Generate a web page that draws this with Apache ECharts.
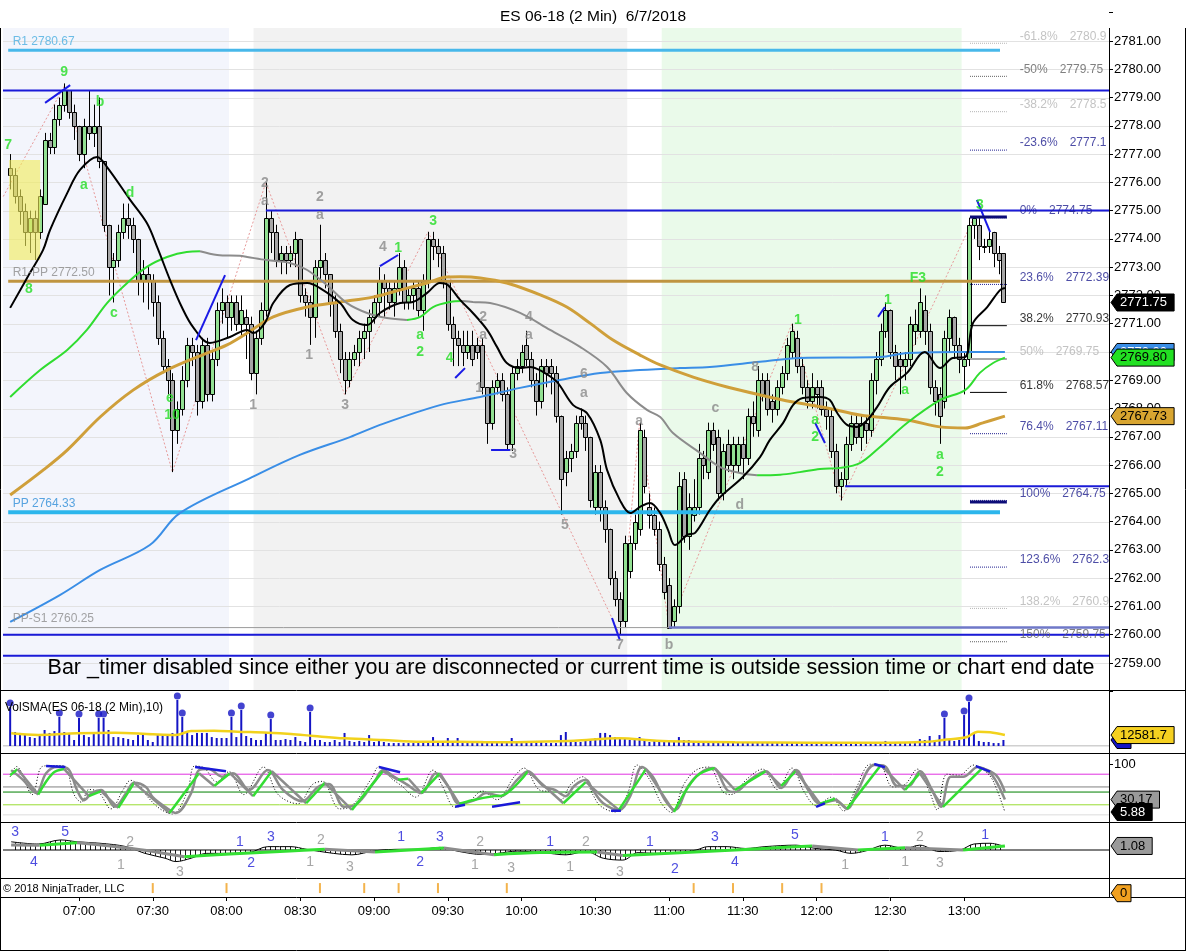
<!DOCTYPE html>
<html>
<head>
<meta charset="utf-8">
<script src="https://cdn.jsdelivr.net/npm/echarts@6/dist/echarts.min.js"></script>
<style>
html,body{margin:0;padding:0;background:#fff;}
#chart{width:1186px;height:952px;}
</style>
</head>
<body>
<div id="chart"></div>
<script>
// ================= DATA =================
// bar index 0 = 06:30 ; 2-minute bars ; first drawn bar = index 1 (06:32)
const firstBarIndex = 1;
const sessionStartMin = 6 * 60 + 30;
const timeTicks = [15, 30, 45, 60, 75, 90, 105, 120, 135, 150, 165, 180, 195];
const priceTicks = [2759,2760,2761,2762,2763,2764,2765,2766,2767,2768,2769,2770,2771,2772,2773,2774,2775,2776,2777,2778,2779,2780,2781];

const opens = [
2776.5,2776.25,2775.5,2775.0,2774.25,2774.75,2774.25,2775.25,2777.5,2777.25,
2778.25,2778.75,2779.25,2778.5,2778.0,2777.0,2778.0,2777.75,2778.0,2776.75,
2774.5,2773.0,2773.25,2774.25,2774.75,2774.5,2774.0,2772.5,2772.75,2772.5,
2771.75,2770.5,2769.5,2769.0,2767.25,2768.0,2769.0,2770.25,2770.0,2768.25,
2770.25,2768.5,2769.75,2771.5,2771.75,2771.25,2771.75,2771.0,2771.25,2771.0,
2769.25,2770.5,2771.5,2774.75,2774.25,2773.25,2773.5,2773.25,2773.5,2774.0,
2772.0,2771.75,2771.25,2773.0,2773.25,2772.75,2771.75,2770.75,2769.75,2769.0,
2769.75,2770.0,2770.5,2770.75,2771.25,2771.75,2772.5,2772.25,2771.75,2772.25,
2773.0,2771.75,2772.0,2772.25,2771.5,2772.5,2774.0,2773.75,2773.5,2772.5,
2771.0,2770.5,2770.25,2770.0,2770.25,2770.25,2770.25,2768.75,2767.5,2768.75,
2769.0,2768.5,2766.75,2769.25,2769.5,2770.25,2769.75,2769.0,2768.25,2769.5,
2769.5,2769.25,2767.75,2765.75,2766.25,2766.5,2767.75,2767.5,2767.0,2764.5,
2765.75,2764.5,2763.75,2762.0,2761.25,2760.5,2762.25,2763.25,2763.75,2767.0,
2764.5,2764.25,2763.75,2762.5,2761.75,2760.5,2761.0,2765.5,2763.5,2764.25,
2764.5,2766.25,2765.75,2767.25,2767.0,2765.0,2766.75,2766.0,2766.0,2766.75,
2766.25,2767.75,2767.25,2769.0,2769.0,2768.25,2768.0,2768.75,2769.25,2770.0,
2770.5,2769.5,2768.75,2768.25,2768.75,2768.75,2768.0,2767.75,2766.5,2765.25,
2765.5,2766.75,2767.5,2767.0,2767.5,2767.25,2769.0,2769.75,2770.75,2771.5,
2770.0,2769.75,2769.5,2769.75,2770.75,2770.75,2771.5,2770.75,2768.75,2768.5,
2768.25,2770.5,2771.25,2770.25,2769.5,2769.75,2774.5,2774.5,2773.75,2773.75,
2774.25,2773.5,2773.5];
const closes = [
2776.25,2775.5,2775.0,2774.25,2774.75,2774.25,2775.5,2777.5,2777.25,2778.25,
2778.75,2779.25,2778.5,2778.0,2777.0,2778.0,2777.75,2778.0,2776.75,2774.5,
2773.0,2773.25,2774.25,2774.75,2774.5,2774.0,2772.5,2772.75,2772.5,2771.75,
2770.5,2769.5,2769.0,2767.25,2768.0,2769.0,2770.25,2770.0,2768.25,2770.25,
2768.5,2769.75,2771.5,2771.75,2771.25,2771.75,2771.0,2771.5,2771.0,2769.25,
2770.5,2771.5,2774.75,2774.25,2773.25,2773.5,2773.25,2773.5,2774.0,2772.0,
2771.75,2771.25,2773.0,2773.25,2772.75,2771.75,2770.75,2769.75,2769.0,2769.75,
2770.0,2770.5,2770.75,2771.25,2771.75,2772.5,2772.25,2771.75,2772.25,2773.0,
2771.75,2772.0,2772.25,2771.5,2772.5,2774.0,2773.75,2773.5,2772.5,2771.0,
2770.5,2770.25,2770.0,2770.25,2769.75,2770.0,2768.75,2767.5,2768.75,2769.0,
2768.5,2766.75,2769.25,2769.5,2770.0,2769.75,2769.0,2768.25,2769.5,2769.25,
2769.25,2767.75,2765.5,2766.25,2766.5,2767.5,2767.5,2767.0,2764.75,2765.75,
2764.5,2763.75,2762.0,2761.25,2760.5,2763.25,2763.25,2764.0,2767.25,2765.25,
2764.25,2763.75,2762.5,2761.5,2760.25,2761.0,2765.25,2763.5,2764.5,2764.5,
2766.25,2766.0,2767.25,2766.75,2765.0,2766.5,2766.0,2766.75,2766.75,2766.25,
2767.75,2767.5,2769.0,2768.5,2768.0,2768.0,2768.75,2769.25,2770.25,2770.75,
2769.5,2768.75,2768.25,2768.75,2768.5,2768.0,2767.75,2766.5,2765.25,2765.5,
2766.75,2767.5,2767.0,2767.5,2767.25,2769.0,2769.75,2770.75,2771.5,2770.0,
2769.5,2769.5,2769.75,2771.0,2771.0,2771.75,2770.75,2768.75,2768.25,2767.75,
2770.5,2771.25,2770.25,2769.75,2769.75,2774.5,2774.75,2773.75,2773.75,2774.0,
2773.5,2773.25,2771.75];
const lows = [
2775.75,2775.25,2774.5,2773.75,2773.5,2773.25,2774.0,2775.25,2777.0,2777.0,
2778.0,2778.5,2778.25,2777.5,2776.75,2776.5,2777.5,2777.25,2776.5,2774.25,
2772.0,2771.75,2773.0,2774.0,2774.0,2773.5,2772.0,2771.75,2771.5,2771.25,
2770.25,2769.25,2768.5,2765.75,2766.75,2767.75,2768.75,2769.5,2767.75,2768.0,
2768.25,2768.25,2769.5,2771.0,2770.5,2770.75,2770.75,2770.5,2769.75,2769.0,
2768.5,2770.25,2771.25,2773.5,2773.0,2772.75,2772.75,2773.0,2773.0,2771.75,
2771.25,2770.25,2770.5,2772.5,2772.25,2771.25,2770.5,2769.25,2768.5,2768.75,
2769.5,2769.5,2769.75,2770.0,2771.0,2771.25,2771.25,2771.5,2771.25,2772.0,
2771.5,2771.5,2771.5,2771.25,2770.75,2772.25,2773.25,2773.0,2772.25,2770.75,
2769.5,2769.5,2769.5,2769.75,2769.5,2769.75,2768.5,2766.75,2767.25,2768.5,
2768.25,2766.5,2766.5,2769.0,2769.25,2769.5,2768.75,2767.75,2768.0,2768.75,
2768.5,2767.5,2764.25,2765.25,2765.75,2766.25,2767.25,2766.5,2764.5,2764.25,
2764.0,2763.25,2761.75,2761.0,2760.0,2760.25,2762.0,2763.0,2763.5,2765.0,
2763.75,2763.5,2762.25,2761.25,2760.25,2760.25,2760.75,2763.25,2763.0,2764.0,
2764.25,2765.5,2765.5,2766.5,2764.75,2764.75,2765.75,2765.5,2765.75,2765.5,
2766.0,2767.0,2767.0,2768.25,2767.75,2767.5,2767.75,2768.5,2769.0,2769.75,
2769.25,2768.5,2768.0,2768.0,2768.0,2767.75,2767.25,2766.25,2765.0,2764.75,
2765.25,2766.5,2766.75,2766.5,2766.75,2767.0,2768.5,2769.5,2770.5,2769.75,
2769.0,2768.5,2769.0,2769.5,2770.25,2770.5,2770.25,2768.5,2767.75,2766.75,
2768.0,2770.0,2769.75,2769.25,2768.5,2769.5,2774.0,2773.25,2773.5,2773.5,
2773.0,2772.75,2771.75];
const highs = [
2777.0,2776.5,2775.75,2775.25,2775.0,2775.0,2775.75,2777.75,2777.75,2778.75,
2779.0,2779.5,2779.25,2778.75,2778.0,2778.25,2779.25,2778.75,2779.0,2776.75,
2774.5,2773.5,2774.5,2775.25,2775.25,2774.75,2774.0,2773.25,2773.0,2772.75,
2772.0,2770.75,2769.75,2769.25,2768.25,2769.5,2770.5,2770.5,2770.25,2770.5,
2770.5,2770.0,2771.75,2772.25,2772.0,2772.0,2772.0,2772.0,2771.5,2771.25,
2770.75,2771.75,2776.0,2775.0,2774.5,2773.75,2773.75,2773.75,2774.25,2774.0,
2772.25,2772.0,2773.25,2774.5,2773.5,2772.75,2772.0,2771.0,2770.0,2770.0,
2770.25,2770.75,2771.0,2771.5,2772.0,2773.0,2772.75,2772.5,2772.5,2773.5,
2773.25,2772.25,2772.5,2772.5,2772.75,2774.25,2774.25,2774.0,2773.75,2772.5,
2771.25,2770.75,2770.75,2770.75,2770.75,2770.5,2770.5,2768.75,2769.0,2769.25,
2769.25,2768.75,2769.5,2769.75,2770.25,2770.75,2770.0,2769.25,2769.75,2769.75,
2769.75,2769.5,2767.75,2766.5,2766.75,2767.75,2768.0,2767.75,2767.0,2766.0,
2766.0,2764.75,2763.75,2762.25,2761.5,2763.5,2763.5,2764.25,2767.5,2767.25,
2765.0,2764.5,2764.0,2762.75,2762.0,2761.25,2765.75,2765.75,2765.0,2765.5,
2766.75,2766.5,2767.5,2767.5,2767.25,2766.75,2767.25,2767.0,2767.0,2767.0,
2768.0,2768.25,2769.5,2769.25,2769.25,2768.5,2769.0,2769.5,2770.5,2771.0,
2770.75,2769.75,2769.0,2769.25,2769.0,2769.0,2768.25,2768.0,2766.75,2765.75,
2767.0,2767.75,2767.75,2767.75,2767.75,2769.25,2770.0,2771.0,2771.75,2771.5,
2770.25,2770.0,2770.0,2771.25,2771.5,2772.25,2772.0,2771.0,2769.0,2768.75,
2770.75,2771.5,2771.25,2770.5,2770.0,2774.75,2774.75,2774.75,2774.0,2774.25,
2774.25,2773.75,2773.5];
const volumes = [
44900,16100,15000,13800,10300,9200,11500,18400,15000,17200,
33400,16100,15000,6900,32200,12600,10300,15000,32200,32200,
18400,10300,10300,9200,8000,6900,12600,13800,6900,4600,
12600,12600,12600,15000,52900,33400,16100,12600,15000,15000,
15000,10300,9200,9200,9200,33400,10300,41400,11500,9200,
6900,6900,15000,31000,6900,6900,8000,6900,10300,5800,
4600,39100,6900,6900,4600,4600,6900,4600,15000,5800,
4600,5800,4600,12600,4600,6900,4600,3400,3400,3400,
3400,3400,3400,3400,4600,4600,10300,4600,4600,9200,
3400,9200,3400,3400,3400,3400,5800,4600,4600,3400,
4600,4600,9200,4600,3400,4600,3400,5800,4600,3400,
3400,3400,12600,16100,6900,4600,4600,5800,6900,9200,
15000,15000,12600,10300,9200,9200,6900,6900,10300,6900,
4600,5800,4600,5800,5800,4600,10300,6900,6900,5800,
5800,4600,4600,4600,3400,3400,3400,3400,3400,3400,
3400,3400,4600,3400,3400,3400,4600,3400,3400,4600,
3400,3400,3400,3400,3400,3400,3400,3400,4600,3400,
4600,3400,3400,3400,3400,3400,4600,4600,5800,3400,
3400,3400,3400,3400,3400,8000,6900,11500,6900,12600,
32200,8000,5800,6900,35600,50600,15000,5800,4600,4600,
3400,3400,6900];
const volSMA = [[1.2,14600],[6.7,12650],[14.6,14600],[22.3,15300],[30,13400],[34.7,12600],[37.8,17250],[42.5,17600],[47.2,16500],[53.4,15300],[58.1,13800],[62.8,11500],[69,8800],[76.8,6900],[84.6,5000],[92.3,5000],[100.2,4200],[107.9,5000],[115.7,6100],[124.8,8800],[132.5,6100],[140.5,5000],[148.4,4200],[164.1,3800],[179.7,3800],[187.7,5000],[190.7,6900],[195.4,10000],[197.8,16500],[200.3,15700],[203.3,12582]];

// moving averages: [barIndex, price]
const maFast = [[1,2771.56],[5,2772.79],[7.7,2773.61],[9.1,2774.31],[12.6,2775.62],[15.2,2776.44],[18.7,2776.9],[20.7,2776.54],[25.4,2775.38],[28.8,2774.56],[30.9,2773.71],[33.5,2772.55],[35.9,2771.59],[38.2,2770.88],[41.6,2770.32],[45.7,2770.53],[49.2,2770.78],[50.4,2770.67],[52.8,2771.03],[54.5,2771.73],[57.9,2772.37],[61.4,2772.44],[64,2772.26],[68.1,2771.73],[70.7,2771.13],[73.6,2770.95],[76.2,2771.38],[80.3,2771.73],[82.9,2771.77],[85.8,2772.09],[88.4,2772.44],[90,2772.37],[92.5,2771.84],[95.1,2771.38],[98,2770.78],[100,2770.18],[102,2769.61],[104.7,2769.43],[106.7,2769.47],[109.4,2769.29],[112.2,2768.94],[115.5,2768.12],[118.3,2767.84],[121,2766.89],[122.4,2765.82],[125,2764.76],[127.1,2764.3],[129.1,2764.52],[131.1,2764.66],[133.2,2764.3],[134.8,2763.7],[136.2,2763.17],[138.7,2763.53],[140.3,2763.6],[143.3,2764.41],[145.4,2764.87],[150,2765.58],[153.5,2766.28],[155.5,2766.89],[158.2,2767.49],[160.2,2768.12],[162.2,2768.37],[165.7,2768.41],[167.7,2768.3],[169.2,2767.84],[171.2,2767.42],[173.2,2767.35],[175.3,2767.59],[177.3,2768.05],[179.9,2768.76],[183.4,2769.26],[187,2770.0],[190.1,2769.43],[192.7,2769.79],[195.2,2769.82],[196.8,2771.02],[199.7,2771.59],[202.3,2772.19],[203.3,2772.26]];
const maTrend = [[1,2768.41],[7.1,2769.36],[12.6,2770.07],[16.6,2770.78],[20.7,2771.73],[24.8,2772.44],[28.8,2773.01],[32.9,2773.36],[36.9,2773.54],[39.6,2773.56],[43.1,2773.43],[47.7,2773.4],[49.2,2773.36],[53.2,2773.25],[57.9,2773.15],[61.4,2772.9],[65.4,2772.37],[69.5,2771.73],[73.6,2771.38],[77.6,2771.2],[81.7,2771.13],[84.4,2771.24],[87,2771.59],[90.5,2771.77],[92.9,2771.8],[95.1,2771.77],[98.6,2771.73],[104.7,2771.38],[110.8,2770.78],[116.9,2770.18],[122.4,2769.47],[126.4,2768.55],[130.5,2767.95],[133.2,2767.7],[135.8,2767.13],[141.3,2766.43],[145.4,2765.93],[149.4,2765.72],[152.9,2765.64],[157.6,2765.66],[161.6,2765.75],[165.7,2765.86],[169.8,2765.9],[173.8,2766.07],[177.9,2766.64],[183.4,2767.49],[190.1,2768.3],[195.2,2768.65],[198.2,2769.26],[200.9,2769.61],[203.3,2769.8]];
const maSlow = [[1,2764.94],[7.7,2765.82],[12.6,2766.53],[19.3,2767.7],[26,2768.65],[32.9,2769.36],[41,2769.96],[45.1,2770.25],[49.2,2770.67],[54.5,2771.24],[61.4,2771.59],[68.1,2771.77],[74.8,2771.94],[81.7,2772.26],[85.8,2772.44],[89.8,2772.65],[92.5,2772.66],[96.6,2772.62],[102,2772.44],[108.8,2772.02],[114.2,2771.59],[118.9,2771.02],[123.6,2770.42],[129.1,2769.89],[133.2,2769.54],[139.9,2769.11],[146.8,2768.76],[153.5,2768.48],[160.2,2768.23],[167.1,2768.02],[173.8,2767.77],[183.4,2767.59],[190.1,2767.35],[195.2,2767.31],[198.8,2767.49],[203.3,2767.73]];
const maLong = [[1,2760.45],[11.1,2761.4],[19.3,2762.29],[29.4,2763.17],[35.5,2764.3],[49.8,2765.54],[59.9,2766.36],[70.1,2766.99],[76.2,2767.42],[88.4,2768.12],[96.6,2768.41],[104.7,2768.73],[112.8,2769.01],[121,2769.26],[129.1,2769.36],[137.2,2769.43],[143.3,2769.47],[153.5,2769.65],[161.6,2769.79],[177.9,2769.82],[183.4,2769.96],[193.6,2770.0],[203.3,2770.0]];
const zigzag = [[-0.4,2775.5],[12,2779.4],[34,2765.75],[53,2776.0],[69,2768.5],[86,2774.25],[125,2760.0],[129,2767.5],[135,2760.25],[160,2771.0],[170,2764.75],[197,2774.75]];

// pivot / level lines: [fromBar, toBar, price, kind]
const levelLines = [
  [0.6, 202.3, 2780.67, 'r1'],
  [-0.46, 224.5, 2779.25, 'blue'],
  [53, 224.5, 2775.0, 'blue'],
  [0.6, 202.3, 2772.5, 'gold'],
  [170.8, 224.5, 2765.25, 'blue'],
  [0.6, 202.3, 2764.33, 'pp'],
  [0.6, 224.5, 2760.25, 'gray'],
  [135, 224.5, 2760.25, 'slate'],
  [-0.46, 224.5, 2760.0, 'blue'],
  [-0.46, 224.5, 2759.25, 'blue']
];
const levelLabels = [
  ['R1 2780.67', 2780.67, '#4aaee0'],
  ['R1-PP 2772.50', 2772.5, '#8c8c8c'],
  ['PP 2764.33', 2764.33, '#2f8fd8'],
  ['PP-S1 2760.25', 2760.25, '#8c8c8c']
];
// fibonacci retracement labels: [pct, value, levelPrice, kind]
const fibLevels = [
  ['-61.8%', '2780.9', 2780.92, 'light'],
  ['-50%', '2779.75', 2779.75, 'dark'],
  ['-38.2%', '2778.5', 2778.5, 'light'],
  ['-23.6%', '2777.1', 2777.14, 'navy'],
  ['0%', '2774.75', 2774.75, 'navy'],
  ['23.6%', '2772.39', 2772.39, 'navy'],
  ['38.2%', '2770.93', 2770.93, 'black'],
  ['50%', '2769.75', 2769.75, 'light'],
  ['61.8%', '2768.57', 2768.57, 'black'],
  ['76.4%', '2767.11', 2767.11, 'navy'],
  ['100%', '2764.75', 2764.75, 'navy'],
  ['123.6%', '2762.3', 2762.39, 'navy'],
  ['138.2%', '2760.9', 2760.93, 'light'],
  ['150%', '2759.75', 2759.75, 'dark']
];
// wave labels on price chart: [bar, price, text, kind]
const waveLabels = [
  [0.6,2777.32,'7','g'],[12,2779.9,'9','g'],[19.3,2778.84,'b','g'],[16,2775.91,'a','g'],
  [25.4,2775.62,'d','g'],[22.1,2771.38,'c','g'],[4.8,2772.23,'8','g'],[33.5,2768.37,'e','g'],
  [33.9,2767.77,'10','g'],[87,2774.63,'3','g'],[79.9,2773.68,'1','g'],[84.4,2770.6,'a','g'],
  [84.4,2770.0,'2','g'],[90.4,2769.79,'4','g'],[161.2,2771.13,'1','g'],[164.7,2767.59,'a','g'],
  [164.7,2766.99,'2','g'],[179.5,2771.84,'1','g'],[185.6,2772.62,'F3','g'],[183,2768.65,'a','g'],
  [190.1,2766.36,'a','g'],[190.1,2765.75,'2','g'],[198.2,2775.2,'3','g'],
  [52.8,2775.98,'2','k'],[52.8,2775.34,'a','k'],[64,2775.48,'2','k'],[64,2774.85,'a','k'],
  [50.4,2768.12,'1','k'],[61.8,2769.89,'1','k'],[69.1,2768.12,'3','k'],[76.8,2773.71,'4','k'],
  [97.2,2771.24,'2','k'],[97.2,2770.6,'a','k'],[96.4,2768.73,'1','k'],[106.5,2771.24,'4','k'],
  [106.5,2770.6,'a','k'],[103.3,2766.39,'3','k'],[117.7,2769.22,'6','k'],[117.7,2768.55,'a','k'],
  [113.8,2763.88,'5','k'],[128.9,2767.56,'a','k'],[125,2759.63,'7','k'],[135,2759.63,'b','k'],
  [144.4,2768.02,'c','k'],[152.5,2769.47,'8','k'],[149.4,2764.59,'d','k']
];
// hand-drawn blue trend strokes: [bar1, price1, bar2, price2]
const blueStrokes = [
  [8.1,2778.81,13.2,2779.44],[38.8,2770.42,44.7,2772.72],[76.2,2773.04,79.9,2773.43],
  [91.5,2769.08,93.5,2769.43],[98.8,2766.53,102.7,2766.53],[123.4,2760.59,125,2759.81],
  [164.7,2767.49,166.7,2766.78],[177.5,2771.24,178.9,2771.59],[197.6,2775.38,200.3,2774.24]
];
const navyMarks = [[196.2,203.7,2774.77],[196.2,203.7,2764.69]];
const highlightBox = [0.8, 7.1, 2776.79, 2773.25];
const shadeRanges = [[-0.46,45.5],[50.5,126.5],[133.5,194.5]];
const fibStub = [196.2, 203.7];

// stochastics: [bar, value]
const stochFast = [[1,75],[2.3,95],[5.5,40],[7.5,95],[10,97],[12,96],[14,40],[15.5,25],[17,50],[19,45],[21.5,12],[24,50],[25.5,68],[27.5,55],[29,35],[31.5,12],[34,2],[37,45],[38.5,96],[40.5,92],[43,65],[45.5,85],[48.5,40],[52.5,94],[55.5,40],[59.5,22],[62.5,60],[64.5,66],[68,12],[70.5,18],[74.5,72],[76,95],[78.5,72],[80.5,58],[83.5,35],[87,88],[89,55],[91.5,15],[94.5,28],[97,47],[100,30],[103.5,75],[105.5,92],[108.5,50],[111,45],[113,30],[115,60],[117.5,75],[119.5,40],[121,18],[124,6],[126.5,40],[128.5,98],[131,70],[133.5,22],[135.5,5],[138,60],[140.5,88],[143,94],[146,45],[147.5,40],[151,72],[154,90],[157,50],[160,92],[162.5,45],[165,18],[168,35],[170.5,8],[173,52],[176,100],[178,97],[180.5,55],[183,60],[185.5,90],[188,45],[189.5,10],[191.5,80],[194,78],[197,98],[199.5,84],[201,65],[203.3,5.88]];
const stochMid = [[1.2,88],[3.6,69],[6.3,43],[8.3,82],[10.5,94],[12.6,92],[14.6,49],[16,29],[17.6,43],[19.5,49],[22.3,16],[24.6,43],[26.2,63],[28.6,55],[30,35],[32.5,16],[34.7,4],[37.8,43],[39.4,88],[41.4,90],[44.1,75],[46.3,82],[49.6,49],[53.4,88],[56.5,49],[60.4,27],[63.6,55],[65.8,61],[68.9,16],[71.3,20],[75.2,67],[76.8,88],[79.1,75],[81.5,61],[84.6,43],[87.6,82],[90,57],[92.3,22],[95.5,29],[97.8,43],[100.8,37],[104.1,69],[106.3,86],[109.4,57],[111.8,49],[114,37],[115.7,57],[118.1,69],[119.5,49],[121.6,23],[124.8,10],[127.1,37],[129.5,94],[131.7,75],[134.2,29],[136.2,10],[138.9,57],[141.3,82],[143.9,92],[146.8,49],[148.4,45],[151.5,69],[154.7,86],[157.8,53],[160.8,88],[163.3,49],[165.7,22],[168.8,29],[171.2,12],[173.4,49],[176.7,98],[178.9,96],[181.4,57],[183.8,57],[186,86],[188.5,49],[190.3,16],[192.3,75],[194.8,75],[197.8,94],[200.3,82],[201.7,63],[203.3,30.17]];
const stochSlow = [[1,78],[2.5,90],[6.7,40],[9.7,82],[12,90],[17,37],[19.5,47],[23,14],[26.2,63],[33.4,4],[39.4,82],[42.5,57],[45.7,82],[50.4,37],[54.2,86],[61.2,23],[65,63],[70.5,10],[76.8,86],[79.9,69],[82,71],[84.6,43],[88.4,82],[92.3,22],[95,29],[99.4,37],[101,38],[106.3,86],[113.5,23],[118.1,65],[121,40],[124.8,10],[130.3,90],[136,6],[140.5,75],[144.3,92],[148.4,49],[154.7,86],[157.8,57],[160.8,86],[165.7,22],[168.8,32],[171.2,12],[178.1,98],[183,49],[186,82],[190.7,16],[198.7,92],[201.5,78],[203.3,45]];
const stochLevels = [[80,'#e030e0'],[55,'#808080'],[45,'#008000'],[20,'#99dd33'],[0,'#d0d0d0']];
const stochStrokes = [[8.3,96,12.2,94],[38.6,94,44.9,86],[76,94,80.3,84],[91.5,16,93.5,20],[99,16,104.7,25],[123.2,8.5,125.2,8.5],[164.9,16,166.7,23],[176.7,100,178.9,93.5],[197.4,96,200.3,85]];

// MACD-style panel: [bar, value]
const macdLine = [[1.2,2.2],[6.7,1.6],[11.3,2.7],[14.6,2.2],[19.3,1.8],[24.6,0.9],[28.4,-0.9],[32.5,-2.2],[34.7,-3.1],[37.8,-2.2],[41,-0.9],[45.7,-0.9],[49.6,-0.7],[53.4,0.9],[58.1,0.9],[61.2,0.2],[66.7,-0.9],[70.5,-1.3],[75.2,-0.2],[80.7,0.2],[84.6,0.2],[88.4,0.7],[92.3,-0.4],[97,-1.2],[100.2,-0.9],[104.1,-0.3],[109.4,-0.7],[114,-1.3],[118.1,-0.4],[121.6,-2.2],[125.6,-2.7],[128.7,-0.7],[132.1,-0.9],[135.8,-0.9],[140.5,0],[142.9,0.9],[146.8,0.9],[150.6,0.4],[154.5,0.9],[160.8,1.3],[164.9,0.4],[168.8,0],[172,-0.9],[175.1,-0.2],[178.9,1.3],[183,0.4],[186,1.3],[189.9,-0.4],[194.2,0],[197,1.6],[200.3,1.8],[203.3,0.9]];
const macdSignal = [[1.2,1.34],[7,1.25],[14.6,1.97],[25.4,0.45],[36.4,-1.79],[45.7,-1.07],[57.9,-0.27],[65,0.18],[75.2,-0.54],[89.2,0.54],[99.4,-1.25],[108.8,-0.7],[120.4,-0.54],[125.6,-1.5],[141.3,-0.45],[153.5,0.36],[164.1,1.07],[173.4,0],[183,0.63],[194.8,0],[203.3,1.08]];
const macdLabels = [
  [2,4.83,'3','b'],[12.2,4.83,'5','b'],[5.85,-3.22,'4','b'],[47.7,2.14,'1','b'],[54,3.49,'3','b'],[50,-3.49,'2','b'],
  [80.5,3.49,'1','b'],[88.4,3.49,'3','b'],[84.4,-3.22,'2','b'],[110.8,2.14,'1','b'],[131.1,2.14,'1','b'],[136.2,-5.2,'2','b'],
  [144.3,3.49,'3','b'],[148.4,-3.22,'4','b'],[160.6,4.02,'5','b'],[178.9,3.49,'1','b'],[199.3,4.02,'1','b'],
  [25.4,2.14,'2','k'],[23.5,-4.02,'1','k'],[35.5,-6.0,'3','k'],[64.2,2.68,'2','k'],[62,-3.22,'1','k'],[70.1,-4.56,'3','k'],
  [96.6,2.14,'2','k'],[95.5,-4.02,'1','k'],[102.9,-4.83,'3','k'],[118.1,2.14,'2','k'],[114.9,-4.56,'1','k'],[125,-6.0,'3','k'],
  [170.8,-4.02,'1','k'],[186,3.49,'2','k'],[183,-3.22,'1','k'],[190.1,-3.49,'3','k']
];
// orange event ticks along the bottom strip
const eventBars = [30,45,64,73,80,88,102,140,148,158,166];

// ================= LAYOUT / STYLE =================
const FONT = '"Liberation Sans", Arial, sans-serif';
const XMIN = -0.4576, XMAX = 224.47;
const L = 3, R = 77;
const GREEN_TXT = '#22dd22', GRAY_TXT = '#8a8a8a';
const kindColor = {r1:'#48b8ea', blue:'#1a1ad8', gold:'#bf9440', pp:'#2cb6ec', gray:'#9a9a9a', slate:'#6f78c8'};
const kindWidth = {r1:3, blue:2, gold:3, pp:4, gray:1, slate:2.5};
const fibColor = {light:'#b4b4b4', dark:'#606060', navy:'#202090', black:'#000'};
const shadeColors = ['#f3f5fc', '#f2f2f2', '#eafaea'];

function timeLabel(i){ const m = sessionStartMin + 2*i; return String(Math.floor(m/60)).padStart(2,'0') + ':' + String(m%60).padStart(2,'0'); }

function lineS(pts, color, width, z, gi, extra){
  return Object.assign({type:'line', xAxisIndex:gi, yAxisIndex:gi, data:pts, symbol:'none', showSymbol:false,
    smooth:0.35, lineStyle:{color:color, width:width}, z:z, silent:true, animation:false}, extra||{});
}
function slopeS(pts, up, down, width, z, gi){
  const out = []; let run = [pts[0]]; let dir = null;
  for (let k = 1; k < pts.length; k++){
    const d = pts[k][1] >= pts[k-1][1];
    if (dir === null || d === dir){ run.push(pts[k]); dir = d; }
    else { out.push(lineS(run, dir ? up : down, width, z, gi)); run = [pts[k-1], pts[k]]; dir = d; }
  }
  out.push(lineS(run, dir ? up : down, width, z, gi));
  return out;
}
function textS(items, gi, size, weight, z){
  return {type:'scatter', xAxisIndex:gi, yAxisIndex:gi, symbolSize:1, itemStyle:{color:'rgba(0,0,0,0)'}, silent:true, z:z||10, animation:false,
    data: items.map(it => ({value:[it[0], it[1]], label:{show:true, formatter:it[2], color:it[3], position:'inside', fontSize:size, fontWeight:weight, fontFamily:FONT}}))};
}

const bars = opens.map((o,k) => [firstBarIndex + k, o, closes[k], lows[k], highs[k]]);
const volData = volumes.map((v,k) => [firstBarIndex + k, v]);
const volDots = volData.filter(d => d[1] >= 30000);

const series = [];
series.push({type:'custom', xAxisIndex:0, yAxisIndex:0, z:0, silent:true, data: shadeRanges,
  renderItem:(p, api) => { const a = api.coord([api.value(0), 2781.46]); const b = api.coord([api.value(1), 2758.04]);
    return {type:'rect', shape:{x:a[0], y:a[1], width:b[0]-a[0], height:b[1]-a[1]}, style:{fill:shadeColors[p.dataIndex]}}; }});
series.push({type:'custom', xAxisIndex:0, yAxisIndex:0, z:1, silent:true, data: priceTicks.map(p => [XMIN, p]),
  renderItem:(p, api) => { const a = api.coord([XMIN, api.value(1)]); const b = api.coord([XMAX, api.value(1)]); const y = Math.round(a[1]) + 0.5;
    return {type:'line', shape:{x1:a[0], y1:y, x2:b[0], y2:y}, style:{stroke:'#e2e2e2', lineWidth:1}}; }});
series.push(lineS(zigzag, '#e8a0a0', 1, 2, 0, {smooth:false, lineStyle:{color:'#e79a9a', width:1, type:[2,2]}}));
series.push({type:'custom', xAxisIndex:0, yAxisIndex:0, z:3, silent:true, data: bars,
  renderItem:(p, api) => {
    const i = api.value(0), o = api.value(1), c = api.value(2), l = api.value(3), h = api.value(4);
    const po = api.coord([i,o]), pc = api.coord([i,c]), pl = api.coord([i,l]), ph = api.coord([i,h]);
    const x = Math.round(po[0]) + 0.5;
    let top = Math.round(Math.min(po[1], pc[1])) + 0.5, bot = Math.round(Math.max(po[1], pc[1])) + 0.5;
    if (bot - top < 1) bot = top + 1;
    return {type:'group', children:[
      {type:'line', shape:{x1:x, y1:ph[1], x2:x, y2:pl[1]}, style:{stroke:'#000', lineWidth:1}},
      {type:'rect', shape:{x:x-2, y:top, width:4, height:bot-top}, style:{fill: c > o ? '#92e092' : '#a6a6a6', stroke:'#000', lineWidth:1}}
    ]};
  }});
series.push({type:'custom', xAxisIndex:0, yAxisIndex:0, z:6, silent:true, data:[highlightBox],
  renderItem:(p, api) => { const a = api.coord([api.value(0), api.value(2)]); const b = api.coord([api.value(1), api.value(3)]);
    return {type:'rect', shape:{x:a[0], y:a[1], width:b[0]-a[0], height:b[1]-a[1]}, style:{fill:'rgba(240,236,90,0.62)'}}; }});
levelLines.forEach(l => series.push(lineS([[l[0], l[2]], [l[1], l[2]]], kindColor[l[3]], kindWidth[l[3]], 4, 0, {smooth:false})));
series.push(lineS(maLong, '#3a8ee6', 2, 5, 0));
series.push(lineS(maSlow, '#cf9f3a', 3, 5, 0));
slopeS(maTrend, '#30dd30', '#8c8c8c', 2, 5, 0).forEach(s => series.push(s));
series.push(lineS(maFast, '#000', 2, 6, 0));
blueStrokes.forEach(b => series.push(lineS([[b[0],b[1]],[b[2],b[3]]], '#1a1ae6', 2, 7, 0, {smooth:false})));
navyMarks.forEach(m => series.push(lineS([[m[0],m[2]],[m[1],m[2]]], '#0c0c78', 3, 7, 0, {smooth:false})));
fibLevels.forEach(f => {
  const k = f[3];
  const solid = (f[0] === '38.2%' || f[0] === '61.8%' || f[0] === '50%');
  const col = f[0] === '50%' ? '#a8a8a8' : fibColor[k];
  series.push(lineS([[fibStub[0], f[2]], [fibStub[1], f[2]]], col, 1, 4, 0,
    {smooth:false, lineStyle:{color:col, width: f[0]==='50%'?2:1, type: solid ? 'solid' : [1,1]}}));
});
series.push({type:'scatter', xAxisIndex:0, yAxisIndex:0, symbolSize:1, itemStyle:{color:'rgba(0,0,0,0)'}, silent:true, z:10, clip:false,
  data: fibLevels.map(f => ({value:[206.2, f[2]], label:{show:true, formatter: f[0] + '\u2003' + f[1], color: fibColor[f[3]], position:'right', distance:0, offset:[0,-7], fontSize:12, fontFamily:FONT}}))});
series.push({type:'scatter', xAxisIndex:0, yAxisIndex:0, symbolSize:1, itemStyle:{color:'rgba(0,0,0,0)'}, silent:true, z:10,
  data: levelLabels.map(l => ({value:[1.4, l[1]], label:{show:true, formatter:l[0], color:l[2], position:'right', distance:0, offset:[0,-8.5], fontSize:12, fontFamily:FONT}}))});
series.push(textS(waveLabels.map(w => [w[0], w[1], w[2], w[3] === 'g' ? GREEN_TXT : GRAY_TXT]), 0, 14, 'bold', 11));

// volume panel
series.push(lineS([[XMIN,0],[XMAX,0]], '#a0a0a0', 1, 1, 1, {smooth:false}));
series.push({type:'bar', xAxisIndex:1, yAxisIndex:1, data: volData, barWidth:2, itemStyle:{color:'#1414c4'}, silent:true, z:2, animation:false});
series.push({type:'scatter', xAxisIndex:1, yAxisIndex:1, data: volDots, symbol:'circle', symbolSize:7, symbolOffset:[0,-4], itemStyle:{color:'#1414c4'}, silent:true, z:3, clip:false});
series.push(lineS(volSMA, '#f2d21c', 2.5, 4, 1));

// stochastic panel
stochLevels.forEach(s => series.push(lineS([[XMIN, s[0]], [XMAX, s[0]]], s[1], 1, 1, 2, {smooth:false})));
series.push(lineS(stochFast, '#000', 1, 2, 2, {lineStyle:{color:'#000', width:1, type:[1,2]}}));
series.push(lineS(stochMid, '#8c8c8c', 2.5, 3, 2));
slopeS(stochSlow, '#33dd33', '#8c8c8c', 2.5, 4, 2).forEach(s => series.push(s));
stochStrokes.forEach(b => series.push(lineS([[b[0],b[1]],[b[2],b[3]]], '#1a1ad8', 2.5, 5, 2, {smooth:false})));

// MACD panel
const hatch = document.createElement('canvas'); hatch.width = 5; hatch.height = 2;
{ const cx = hatch.getContext('2d'); cx.fillStyle = '#000'; cx.fillRect(0,0,1,2); }
series.push(lineS([[XMIN,0],[XMAX,0]], '#000', 1, 1, 3, {smooth:false}));
series.push(lineS(macdLine, '#000', 1, 3, 3, {areaStyle:{color:{image:hatch, repeat:'repeat'}, opacity:0.9}}));
slopeS(macdSignal, '#33e033', '#8c8c8c', 3, 4, 3).forEach(s => series.push(s));
series.push(textS(macdLabels.map(m => [m[0], m[1], m[2], m[3] === 'b' ? '#2020d8' : '#909090']), 3, 14, 'normal', 10));

// bottom strip
series.push({type:'scatter', xAxisIndex:4, yAxisIndex:4, data: eventBars.map(b => [b, 0.47]), symbol:'rect', symbolSize:[2,10], itemStyle:{color:'#f0a020'}, silent:true, z:3});

const grids = [
  {left:L, right:R, top:12.73, height:678.48},
  {left:L, right:R, top:690, height:56},
  {left:L, right:R, top:764, height:51},
  {left:L, right:R, top:822, height:56},
  {left:L, right:R, top:878, height:19}
];
const hiddenAxisParts = {axisLine:{show:false, onZero:false}, axisTick:{show:false}, axisLabel:{show:false}, splitLine:{show:false}};
const xAxes = grids.map((g,k) => k === 4 ? {
  type:'value', gridIndex:4, min:XMIN, max:XMAX, position:'bottom',
  axisLine:{show:false, onZero:false}, axisTick:{show:true, customValues:timeTicks, length:4, lineStyle:{color:'#000'}},
  axisLabel:{customValues:timeTicks, formatter:v => timeLabel(v), fontSize:13, color:'#000', fontFamily:FONT, margin:8},
  splitLine:{show:false}
} : Object.assign({type:'value', gridIndex:k, min:XMIN, max:XMAX, show:false}, hiddenAxisParts));
const yAxes = [
  {type:'value', gridIndex:0, position:'right', min:2758, max:2782, interval:1, axisLine:{show:false, onZero:false},
   axisTick:{show:true, length:4, lineStyle:{color:'#000'}},
   axisLabel:{formatter:v => (v > 2758 && v < 2782) ? v.toFixed(2) : '', fontSize:13, color:'#000', fontFamily:FONT, margin:5},
   splitLine:{show:false}},
  Object.assign({type:'value', gridIndex:1, min:0, max:64400, show:false}, hiddenAxisParts),
  {type:'value', gridIndex:2, position:'right', min:0, max:100, axisLine:{show:false, onZero:false},
   axisTick:{show:true, customValues:[100], length:4, lineStyle:{color:'#000'}},
   axisLabel:{customValues:[100], fontSize:13, color:'#000', fontFamily:FONT, margin:5}, splitLine:{show:false}},
  Object.assign({type:'value', gridIndex:3, min:-7.5, max:7.5, show:false}, hiddenAxisParts),
  Object.assign({type:'value', gridIndex:4, min:0, max:1, show:false}, hiddenAxisParts)
];

const frame = [];
[690.5, 753.5, 822.5, 878.5, 897.5].forEach((y,k) => frame.push({type:'line', id:'h'+k, shape:{x1:0, y1:y, x2:1186, y2:y}, style:{stroke:'#000', lineWidth:1}, z:50}));
frame.push({type:'line', id:'vaxis', shape:{x1:1109.5, y1:28, x2:1109.5, y2:897.5}, style:{stroke:'#000', lineWidth:1}, z:50});
frame.push({type:'line', id:'lb', shape:{x1:0.5, y1:28, x2:0.5, y2:951}, style:{stroke:'#000', lineWidth:1}, z:50});
frame.push({type:'line', id:'rb', shape:{x1:1185.5, y1:28, x2:1185.5, y2:951}, style:{stroke:'#000', lineWidth:1}, z:50});
frame.push({type:'line', id:'bb', shape:{x1:0, y1:950.5, x2:1186, y2:950.5}, style:{stroke:'#000', lineWidth:1}, z:50});
frame.push({type:'text', id:'timer', x:571, y:668, style:{text:'Bar _timer disabled since either you are disconnected or current time is outside session time or chart end date', fontSize:21.5, fontFamily:FONT, fill:'#000', align:'center', verticalAlign:'middle'}, z:60});
frame.push({type:'text', id:'copy', x:3, y:889, style:{text:'\u00a9 2018 NinjaTrader, LLC', fontSize:11, fontFamily:FONT, fill:'#000', align:'left', verticalAlign:'middle'}, z:60});
frame.push({type:'text', id:'volsma', x:5, y:708, style:{text:'VolSMA(ES 06-18 (2 Min),10)', fontSize:12, fontFamily:FONT, fill:'#000', align:'left', verticalAlign:'middle'}, z:60});

const chart = echarts.init(document.getElementById('chart'), null, {renderer:'canvas'});
chart.setOption({
  animation:false,
  backgroundColor:'#fff',
  title:{text:'ES 06-18 (2 Min)  6/7/2018', left:'center', top:4, textStyle:{fontSize:15.5, fontWeight:'normal', color:'#000', fontFamily:FONT}},
  grid:grids, xAxis:xAxes, yAxis:yAxes, series:series, graphic:frame
});

const flags = [
  [0, 2771.75, '2771.75', '#000', '#fff'],
  [0, 2770.0, '2770.00', '#3a8ee6', '#fff'],
  [0, 2769.8, '2769.80', '#22e022', '#000'],
  [0, 2767.73, '2767.73', '#d8a530', '#000'],
  [1, 6900, '', '#1414c4', '#fff'],
  [1, 12582, '12581.7', '#f5d020', '#000'],
  [2, 30.17, '30.17', '#9a9a9a', '#000'],
  [2, 5.88, '5.88', '#000', '#fff'],
  [3, 1.08, '1.08', '#9a9a9a', '#000'],
  [4, 0.2, '0', '#f0a020', '#000']
];
const flagEls = [];
flags.forEach((f,k) => {
  const y = chart.convertToPixel({yAxisIndex:f[0]}, f[1]);
  const w = Math.max(f[2].length * 7.3 + 6, 14);
  const x0 = 1111, x1 = 1117, x2 = x1 + w;
  flagEls.push({type:'polygon', id:'fp'+k, shape:{points:[[x0,y],[x1,y-8.5],[x2,y-8.5],[x2,y+8.5],[x1,y+8.5]]}, style:{fill:f[3], stroke:'#000', lineWidth:1}, z:70+k});
  if (f[2]) flagEls.push({type:'text', id:'ft'+k, x:x1+3, y:y, style:{text:f[2], fontSize:13, fontFamily:FONT, fill:f[4], align:'left', verticalAlign:'middle'}, z:70+k});
});
chart.setOption({graphic: flagEls});
</script>
</body>
</html>
